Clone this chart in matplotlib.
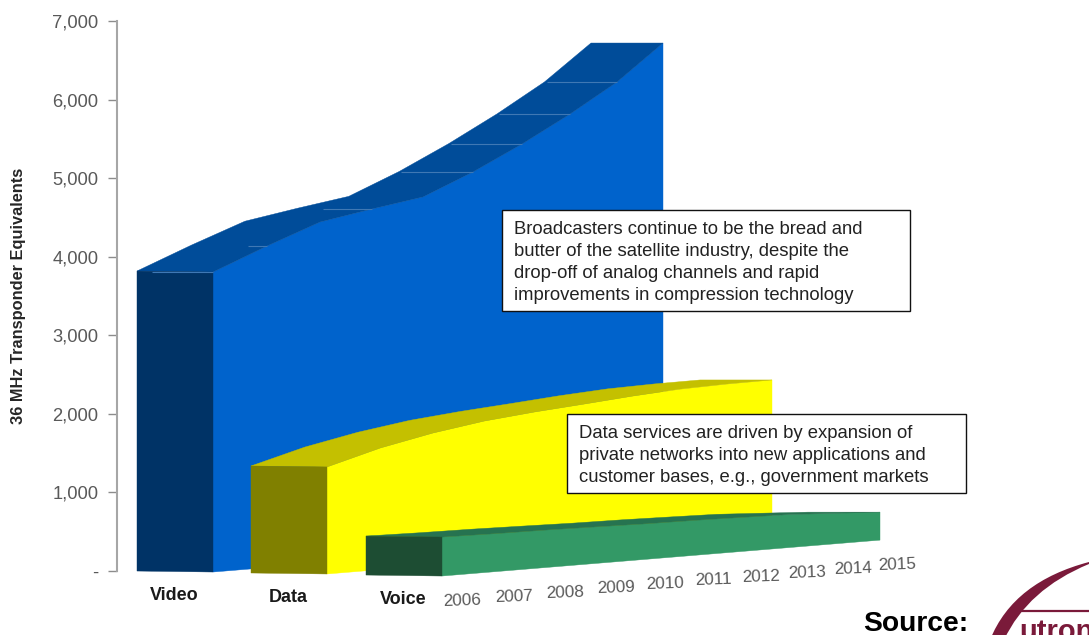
import numpy as np
import matplotlib
matplotlib.use("Agg")
import matplotlib.pyplot as plt
from matplotlib.patches import Polygon, PathPatch
from matplotlib.path import Path

plt.rcParams['font.family'] = ['Liberation Sans', 'DejaVu Sans']

# Transponder demand by service, 2006-2015
years = [2006, 2007, 2008, 2009, 2010, 2011, 2012, 2013, 2014, 2015]
video = [3818, 4093, 4343, 4455, 4555, 4821, 5125, 5456, 5815, 6263]
data = [1362, 1548, 1683, 1782, 1845, 1894, 1945, 1984, 2000, 2005]
voice = [496, 484, 477, 465, 452, 445, 433, 420, 388, 356]
services = ["Video", "Data", "Voice"]
y_ticks = [0, 1000, 2000, 3000, 4000, 5000, 6000, 7000]
y_tick_labels = ["-", "1,000", "2,000", "3,000", "4,000", "5,000", "6,000", "7,000"]

W, H = 1089, 635
fig = plt.figure(figsize=(W / 100, H / 100), dpi=100)
TOP_PX, ZERO_PX, AXIS_PX = 21, 571, 117
ax = fig.add_axes([AXIS_PX / W, 1 - ZERO_PX / H, 1 - AXIS_PX / W, (ZERO_PX - TOP_PX) / H])
ax.set_xlim(AXIS_PX, W)
ax.set_ylim(0, 7000)
UNITS_PER_PX = 7000 / (ZERO_PX - TOP_PX)

# Oblique projection of the pseudo-3D ribbons: years run up and to the right
# with a little foreshortening, depth runs straight to the left.
TILT = 0.082 * UNITS_PER_PX


def front_x(start, span, i):
    return start + span * (54.5 * i - 0.5 * i ** 2) / 450


def project(values, start, span, lift):
    idx = np.arange(len(values))
    x = front_x(start, span, idx)
    base = lift + TILT * (x - start)
    top = base + np.asarray(values, float)
    return idx, x, base, top


def ribbon(values, start, span, lift, side_c, top_c, end_c, z):
    idx, x, base, top = project(values, start, span, lift)
    depth = 76 - 4 * idx / 9
    rise = UNITS_PER_PX * (1 - idx / 9)
    bx = x - depth
    front = np.column_stack([x, top])
    bottom = np.column_stack([x, base])
    back = np.column_stack([bx, top + rise])
    ax.add_patch(Polygon(np.vstack([front, bottom[::-1]]), closed=True, fc=side_c, ec=side_c,
                         lw=0.3, clip_on=False, zorder=z))
    ax.add_patch(Polygon(np.vstack([front, back[::-1]]), closed=True, fc=top_c, ec=top_c,
                         lw=0.3, clip_on=False, zorder=z + 0.1))
    panel = [back[0], front[0], bottom[0], (bx[0], base[0] + rise[0])]
    ax.add_patch(Polygon(panel, closed=True, fc=end_c, ec=end_c, lw=0.3,
                         clip_on=False, zorder=z + 0.2))
    return x, bx, base, top


vx, vbx, vbase, vtop = ribbon(video, 213, 450, -13, "#0063CC", "#004C99", "#003366", 2)
ribbon(data, 327, 445, -38, "#FFFF00", "#C4C000", "#808000", 3)
gx, gbx, gbase, gtop = ribbon(voice, 442, 438, -64, "#339966", "#267350", "#1D4D33", 4)

# Year dividers across the top face of the video ribbon
for i, share in [(0, 0.8), (1, 0.25), (3, 0.65), (5, 0.97), (6, 0.97), (7, 0.97), (8, 0.97)]:
    ax.plot([vx[i] - share * (vx[i] - vbx[i]), vx[i]], [vtop[i], vtop[i]], color="#3F78B4",
            lw=0.8, clip_on=False, zorder=2.25, solid_capstyle="butt")

# Value axis
for side in ("top", "right", "bottom"):
    ax.spines[side].set_visible(False)
ax.spines["left"].set_color("#a6a6a6")
ax.spines["left"].set_linewidth(1.5)
ax.set_xticks([])
ax.set_yticks(y_ticks)
ax.set_yticklabels(y_tick_labels, fontsize=13.2, color="#595959")
ax.tick_params(axis="y", length=6.5, width=1, color="#8c8c8c", pad=7)
ax.set_ylabel("36 MHz Transponder Equivalents", fontsize=11.8, fontweight="bold", color="#262626")
ax.yaxis.set_label_coords(-91 / (W - AXIS_PX), 0.5)
ax.patch.set_alpha(0)

# Service labels beneath each ribbon
for name, px, py in zip(services, [174, 288, 403], [596, 598, 600]):
    ax.text(px, (ZERO_PX - py) * UNITS_PER_PX, name, ha="center", va="center", fontsize=13,
            fontweight="bold", color="#1a1a1a", clip_on=False)

# Year labels follow the front edge of the voice ribbon
for i, yr in enumerate(years):
    ax.text(gx[i] + 20 - 3 * i / 9, gbase[i] - 25 * UNITS_PER_PX, str(yr), ha="center", va="center",
            fontsize=12.3, color="#595959", rotation=2, clip_on=False, rotation_mode="anchor")


def note(left, top, right, bottom, lines, first_py, step):
    corners = [(left, (ZERO_PX - top) * UNITS_PER_PX), (right, (ZERO_PX - top) * UNITS_PER_PX),
               (right, (ZERO_PX - bottom) * UNITS_PER_PX), (left, (ZERO_PX - bottom) * UNITS_PER_PX)]
    ax.add_patch(Polygon(corners, closed=True, fc="white", ec="#111111", lw=1.0, zorder=6, clip_on=False))
    for k, line in enumerate(lines):
        ax.text(left + 12, (ZERO_PX - first_py - k * step) * UNITS_PER_PX, line, ha="left", va="center",
                fontsize=13.35, color="#222222", zorder=7)


note(502, 210, 910, 311,
     ["Broadcasters continue to be the bread and",
      "butter of the satellite industry, despite the",
      "drop-off of analog channels and rapid",
      "improvements in compression technology"], 229.5, 22)
note(567, 414, 966, 493,
     ["Data services are driven by expansion of",
      "private networks into new applications and",
      "customer bases, e.g., government markets"], 434, 22)

# Source credit with the corner of the company logo
fig.text(863 / W, 1 - 631 / H, "Source:", fontsize=20.3, fontweight="bold", color="black",
         ha="left", va="baseline")
logo_color = "#7A1A3A"
to_fig = lambda p: (p[0] / W, 1 - p[1] / H)
arc_pts = [(990, 640), (1006, 600), (1040, 575), (1089, 562), (1089, 564), (1048, 581), (1020, 606), (1004, 640), (990, 640)]
arc_codes = [Path.MOVETO, Path.CURVE4, Path.CURVE4, Path.CURVE4, Path.LINETO, Path.CURVE4, Path.CURVE4, Path.CURVE4, Path.CLOSEPOLY]
fig.add_artist(PathPatch(Path([to_fig(p) for p in arc_pts], arc_codes), fc=logo_color, ec="none",
                         transform=fig.transFigure))
fig.add_artist(plt.Line2D([1012 / W, 1], [1 - 611 / H, 1 - 611 / H], color=logo_color, lw=1.6))
fig.text(1019 / W, 1 - 640 / H, "utron", fontsize=21, fontweight="bold", color=logo_color,
         ha="left", va="baseline")

fig.savefig("out.png", dpi=100, facecolor="white")
